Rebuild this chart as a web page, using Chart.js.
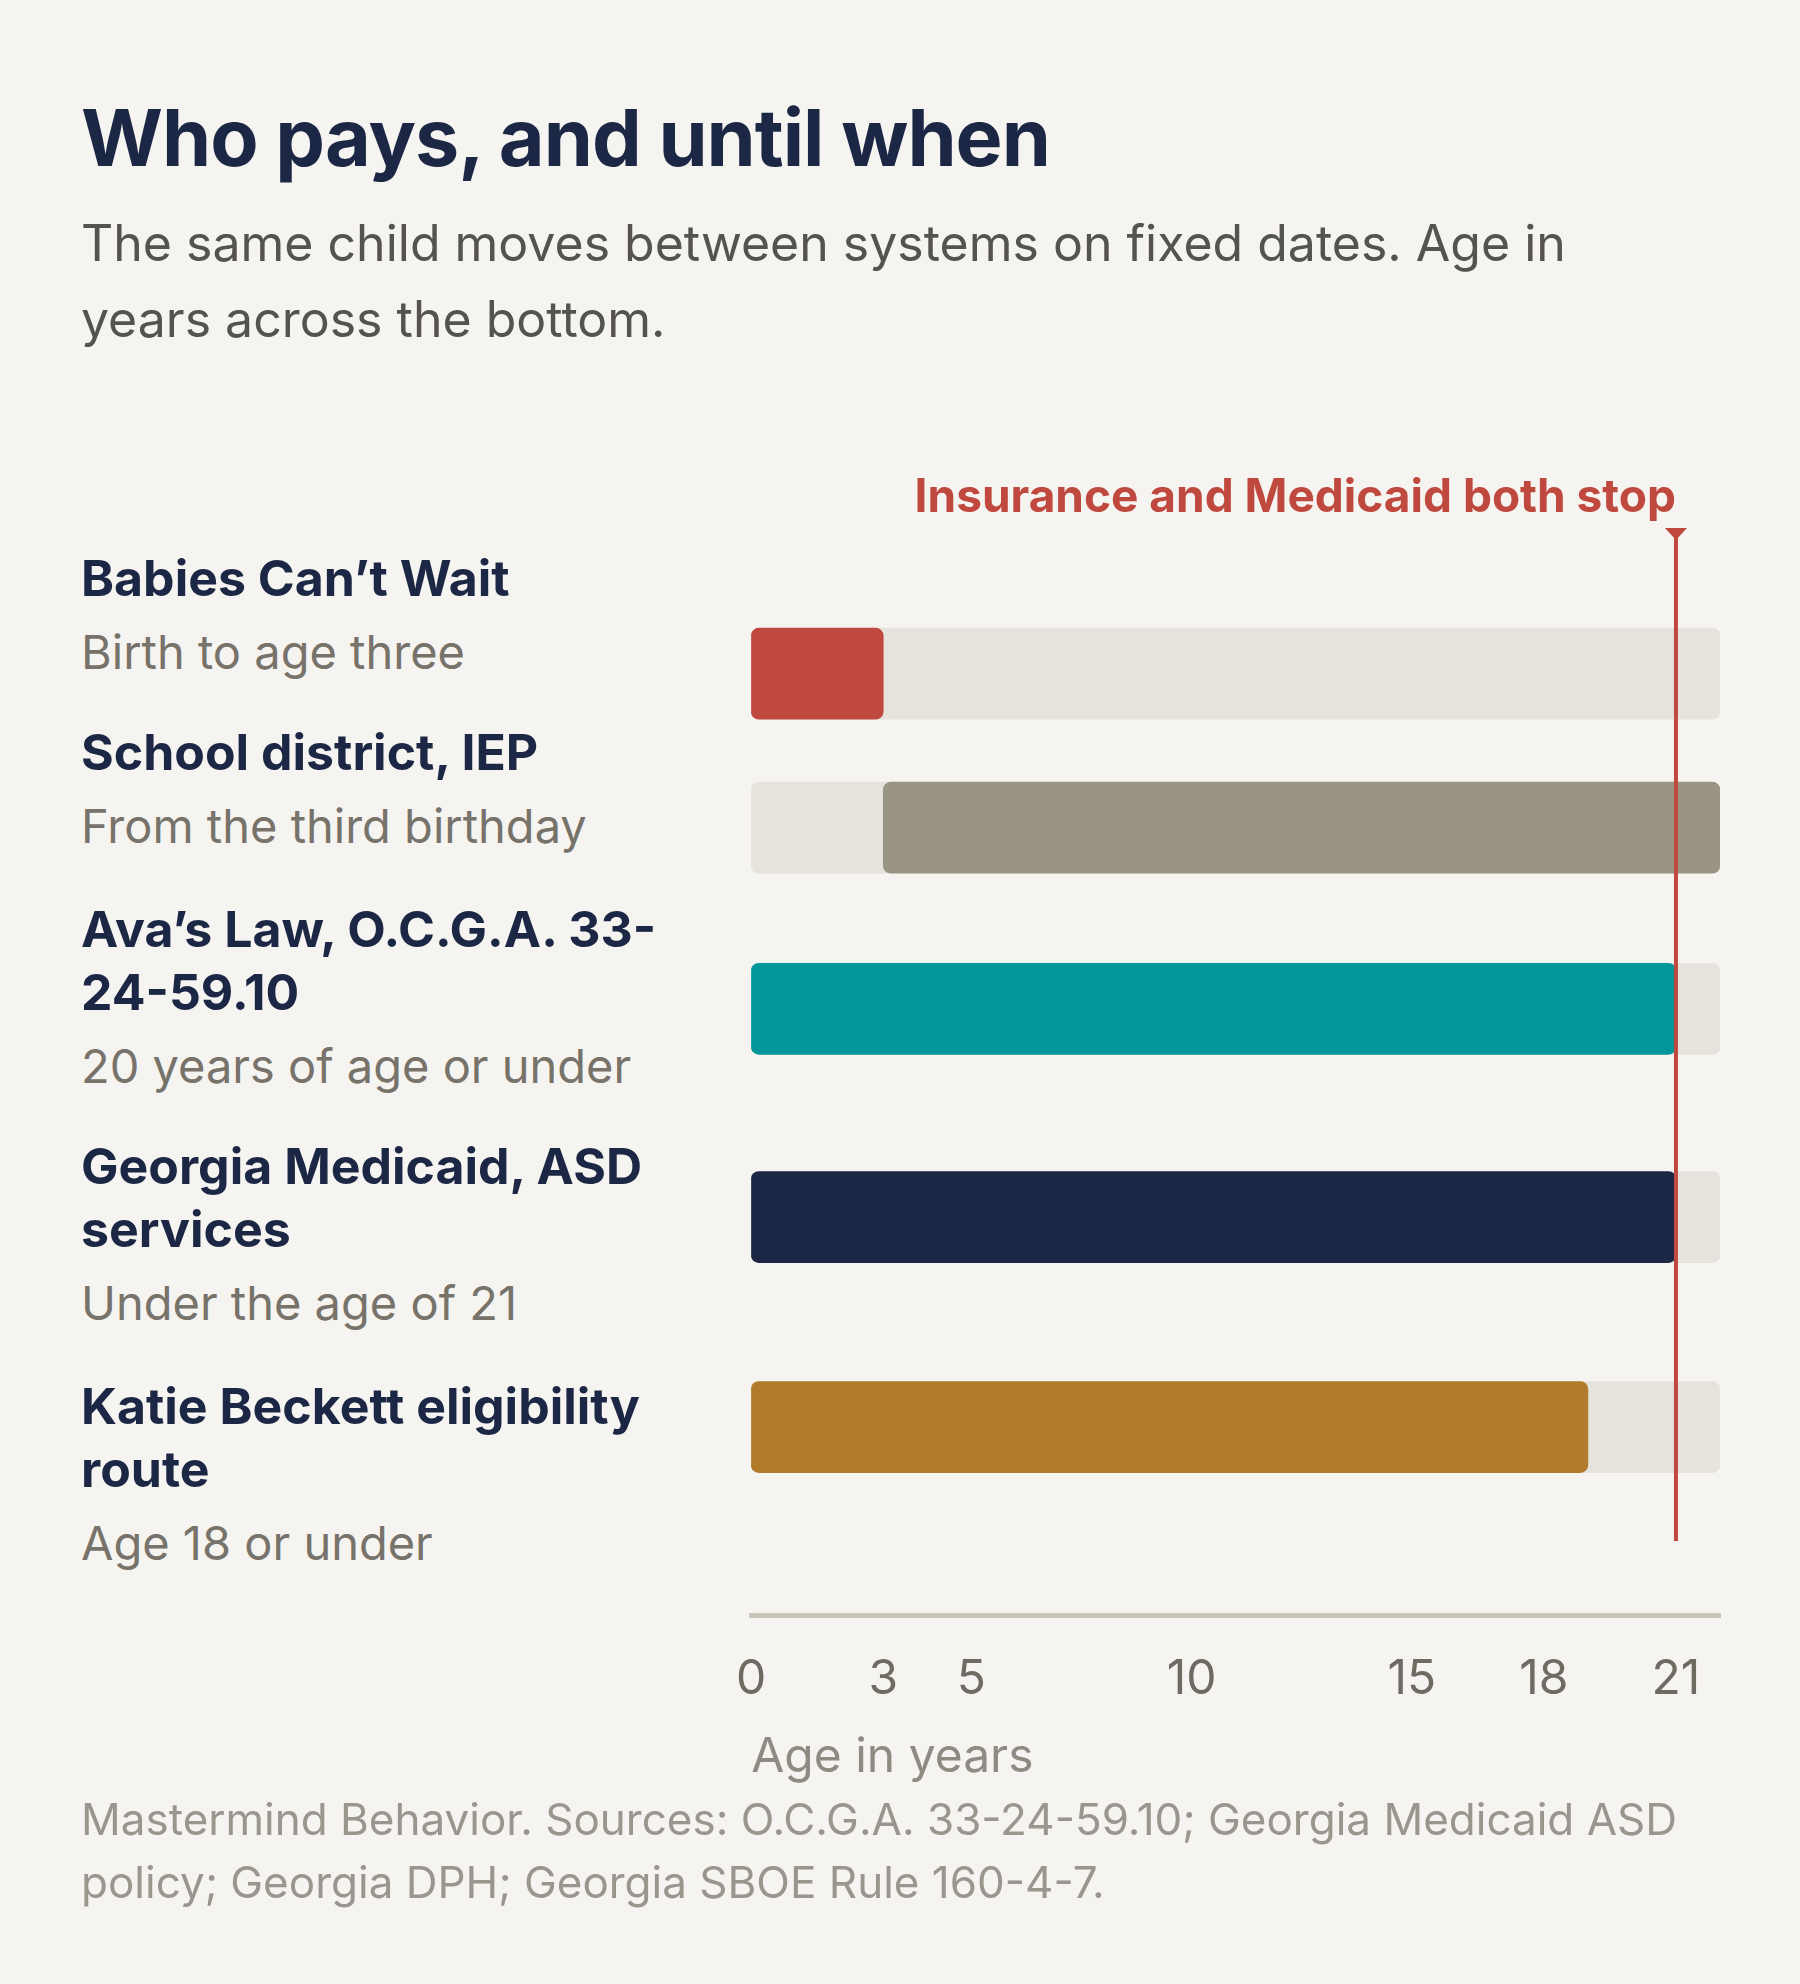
<!DOCTYPE html>
<html><head><meta charset="utf-8">
<script src="https://cdn.jsdelivr.net/npm/chart.js@4/dist/chart.umd.min.js"></script>
<style>
html,body{margin:0;padding:0;background:#f6f4f0;}
body{width:1800px;height:1984px;position:relative;font-family:Inter,"Noto Sans",sans-serif;overflow:hidden;}
#title{position:absolute;left:81px;top:90px;font-size:79px;font-weight:700;color:#1b2744;letter-spacing:-1px;line-height:94px;}
#sub{position:absolute;left:81px;top:205px;width:1600px;font-size:50px;color:#55534f;line-height:76px;}
.lab{position:absolute;left:81px;width:620px;}
.lab .t{font-size:50px;font-weight:700;color:#1b2744;line-height:63px;}
.lab .s{font-size:47px;color:#77736b;line-height:83px;}
#foot{position:absolute;left:81px;top:1788px;width:1640px;font-size:44px;color:#9a968e;line-height:63px;}
#wrap{position:absolute;left:700px;top:460px;width:1060px;height:1330px;}
</style></head><body>
<div id="title">Who pays, and until when</div>
<div id="sub">The same child moves between systems on fixed dates. Age in years across the bottom.</div>
<div id="labels"></div>
<div id="wrap"><canvas id="c" width="1060" height="1330" style="width:1060px;height:1330px"></canvas></div>
<div id="foot">Mastermind Behavior. Sources: O.C.G.A. 33-24-59.10; Georgia Medicaid ASD policy; Georgia DPH; Georgia SBOE Rule 160-4-7.</div>
<script>
const categories = ["Babies Can’t Wait","School district, IEP","Ava’s Law, O.C.G.A. 33-24-59.10","Georgia Medicaid, ASD services","Katie Beckett eligibility route"];
const subtitles = ["Birth to age three","From the third birthday","20 years of age or under","Under the age of 21","Age 18 or under"];
const starts = [0,3,0,0,0];
const ends = [3,22,21,21,19];
const barColors = ["#c0493f","#9a9484","#00969a","#1b2744","#b07c2c"];
const tickVals = [0,3,5,10,15,18,21];
const axisMax = 22;
const cutoff = 21;
const cutoffLabel = "Insurance and Medicaid both stop";
// layout (page px)
const rowCenters = [616,792,999,1237,1477];
const labelTops = [547,721,898,1135,1375];

const L = document.getElementById('labels');
categories.forEach((c,i)=>{
  const d=document.createElement('div');d.className='lab';d.style.top=labelTops[i]+'px';
  d.innerHTML='<div class="t">'+c+'</div><div class="s">'+subtitles[i]+'</div>';
  L.appendChild(d);
});

const cutPlugin={id:'cut',afterDatasetsDraw(chart){
  const ctx=chart.ctx,x=chart.scales.x.getPixelForValue(cutoff);
  ctx.save();
  ctx.strokeStyle='#c0493f';ctx.lineWidth=4;
  ctx.beginPath();ctx.moveTo(x,70);ctx.lineTo(x,1541-460);ctx.stroke();
  ctx.fillStyle='#c0493f';
  ctx.beginPath();ctx.moveTo(x-11,68);ctx.lineTo(x+11,68);ctx.lineTo(x,80);ctx.closePath();ctx.fill();
  ctx.font='bold 46px Inter, "Noto Sans", sans-serif';ctx.textAlign='right';ctx.textBaseline='alphabetic';
  ctx.fillText(cutoffLabel,x,52);
  ctx.restore();
}};

new Chart(document.getElementById('c'),{
  type:'bar',
  data:{datasets:[
    {data:rowCenters.map(y=>({x:[0,axisMax],y})),backgroundColor:'#e6e3dc',borderRadius:8,borderSkipped:false,barThickness:91,grouped:false,order:2},
    {data:rowCenters.map((y,i)=>({x:[starts[i],ends[i]],y})),backgroundColor:barColors,borderRadius:8,borderSkipped:false,barThickness:91,grouped:false,order:1}
  ]},
  options:{
    indexAxis:'y',responsive:false,maintainAspectRatio:false,animation:false,devicePixelRatio:1,
    layout:{padding:{left:40,right:40,top:80,bottom:0}},
    plugins:{legend:{display:false},tooltip:{enabled:false}},
    scales:{
      y:{type:'linear',min:540,max:1615,reverse:true,display:false},
      x:{type:'linear',min:0,max:axisMax,
        afterBuildTicks(s){s.ticks=tickVals.map(v=>({value:v}));},
        afterFit(s){s.height=175;},
        grid:{display:false,drawTicks:false},
        border:{color:'#c9c6bc',width:5},
        ticks:{padding:36,color:'#6f6b63',font:{size:48,family:'Inter'},autoSkip:false,maxRotation:0},
        title:{display:true,text:'Age in years',align:'start',color:'#8f8b83',font:{size:48,family:'Inter'},padding:{top:14}}
      }
    }
  },
  plugins:[cutPlugin]
});
</script>
</body></html>
